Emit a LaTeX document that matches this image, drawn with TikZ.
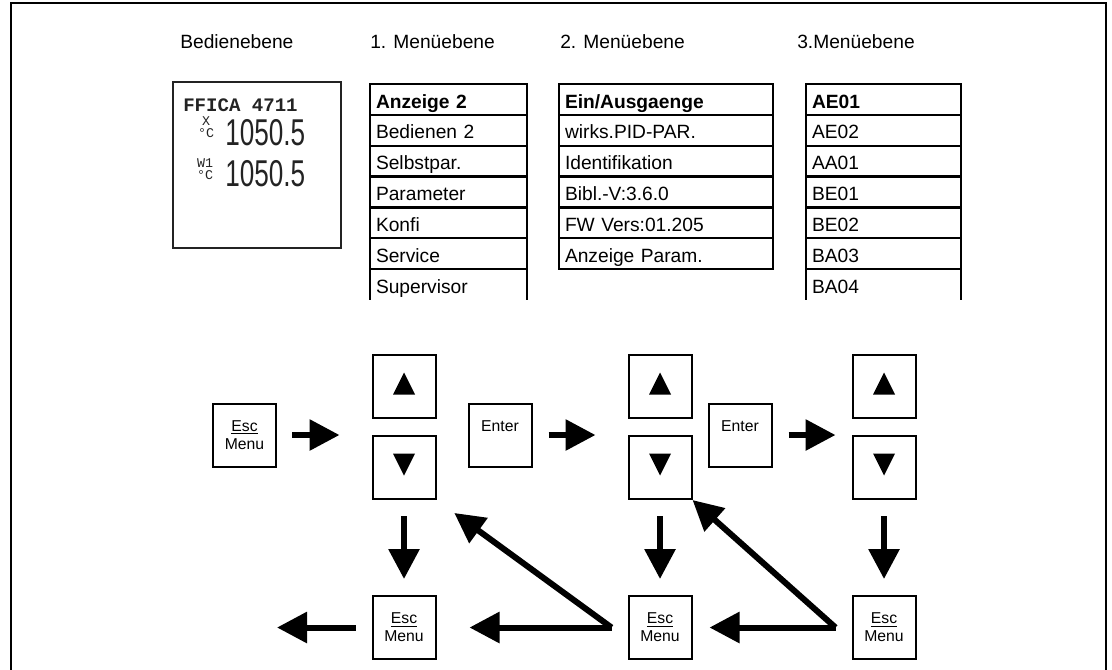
\documentclass[tikz,border=0pt]{standalone}
\usepackage{fontspec}
\setmainfont{Liberation Sans}
\setmonofont{Liberation Mono}
\usetikzlibrary{arrows.meta,positioning,calc}
\definecolor{ink}{RGB}{0,0,0}
\definecolor{lcdink}{RGB}{35,35,35}
\newlength\pxu
\setlength\pxu{0.75pt}
\tikzset{
  >={Triangle[length=22.5pt,width=22.5pt]},
  head/.style={anchor=base west,inner sep=0,font=\fontsize{14.4}{17}\selectfont},
  row/.style={draw=ink,line width=2.2\pxu,anchor=north west,outer sep=0,text width=#1,align=left,
    inner xsep=6\pxu,inner ysep=0,text height=24\pxu,text depth=6.85\pxu,
    font=\fontsize{14.4}{17}\selectfont},
  rule/.style={draw=ink,line width=2.2\pxu},
  key/.style={draw=ink,line width=2\pxu,minimum size=63\pxu,inner sep=0,align=center,
    font=\fontsize{11.8}{13.5}\selectfont},
  upkey/.style={key,path picture={\fill[ink,shift={(path picture bounding box.center)}]
    (0,-14) -- (11,8) -- (-11,8) -- cycle;}},
  downkey/.style={key,path picture={\fill[ink,shift={(path picture bounding box.center)}]
    (-11,-14) -- (11,-14) -- (0,8) -- cycle;}},
  flow/.style={->,line width=6\pxu,draw=ink},
  % display
  lcd/.style={draw=lcdink,line width=2\pxu,minimum width=168\pxu,minimum height=166\pxu,inner sep=0},
  lcdtext/.style={anchor=base west,inner sep=0,text=lcdink,font=\fontsize{14.3}{16}\ttfamily\bfseries},
  unit/.style={inner sep=0,align=center,text=lcdink,font=\fontsize{10}{9.5}\ttfamily},
  seg/.style={anchor=base west,inner sep=0,text=lcdink,font=\fontsize{28}{30}\selectfont},
}

\begin{document}
\begin{tikzpicture}[x=0.75pt,y=-0.75pt]
  \useasboundingbox (0,0) rectangle (1112,669);
  % frame, open at the bottom
  \draw[ink,line width=1.7\pxu] (11,680) -- (11,3) -- (1106,3) -- (1106,680);

  % column heads
  \node[head] (h0) at (180,48) {Bedienebene};
  \node[head] (h1) at (370,48) {1. Menüebene};
  \node[head] (h2) at (560,48) {2. Menüebene};
  \node[head] (h3) at (797,48) {3.Menüebene};

  % display
  \node[lcd] (lcd) at (257,165) {};
  \node[lcdtext] (tag) at (183,111) {FFICA 4711};
  \node[unit] (u1) at (206,127) {X\\°C};
  \node[unit] (u2) at (205,169) {W1\\°C};
  \node[seg] (pv) at (225,145) {\scalebox{0.7}[1]{1050.5}};
  \node[seg] (sp) at (225,186) {\scalebox{0.7}[1]{1050.5}};

  % menu lists
  \foreach \t [count=\i] in {{\textbf{Anzeige 2}},Bedienen 2,Selbstpar.,Parameter,Konfi,Service}
    \node[row=145\pxu] (m1-\i) at (370,{84+30.85*(\i-1)}) {\t};
  \node[row=145\pxu,draw=none] (m1-7) at (370,{84+30.85*6}) {Supervisor};
  \draw[rule] (m1-7.north west) -- (m1-7.south west) (m1-7.north east) -- (m1-7.south east);

  \foreach \t [count=\i] in {{\textbf{Ein/Ausgaenge}},wirks.PID-PAR.,Identifikation,Bibl.-V:3.6.0,FW Vers:01.205,Anzeige Param.}
    \node[row=202\pxu] (m2-\i) at (559,{84+30.85*(\i-1)}) {\t};

  \foreach \t [count=\i] in {{\textbf{AE01}},AE02,AA01,BE01,BE02,BA03}
    \node[row=143\pxu] (m3-\i) at (806,{84+30.85*(\i-1)}) {\t};
  \node[row=143\pxu,draw=none] (m3-7) at (806,{84+30.85*6}) {BA04};
  \draw[rule] (m3-7.north west) -- (m3-7.south west) (m3-7.north east) -- (m3-7.south east);

  % keys
  \node[key] (esc0) at (244.5,435) {\underline{Esc}\\Menu};
  \node[upkey] (up1) at (404,386.5) {};
  \node[downkey,below=16\pxu of up1] (dn1) {};
  \node[key,below=95\pxu of dn1] (esc1) {\underline{Esc}\\Menu};
  \node[key] (ent1) at (500,435) {Enter\\~};
  \node[upkey] (up2) at (660,386.5) {};
  \node[downkey,below=16\pxu of up2] (dn2) {};
  \node[key,below=95\pxu of dn2] (esc2) {\underline{Esc}\\Menu};
  \node[key] (ent2) at (740,435) {Enter\\~};
  \node[upkey] (up3) at (884,386.5) {};
  \node[downkey,below=16\pxu of up3] (dn3) {};
  \node[key,below=95\pxu of dn3] (esc3) {\underline{Esc}\\Menu};

  % arrows
  \coordinate (back) at (esc0.east |- esc1.west);
  \coordinate (j2) at ($(esc2.west)+(-16,0)$);
  \coordinate (j3) at ($(esc3.west)+(-16,0)$);
  \draw[flow,shorten <=15\pxu,shorten >=32\pxu] (esc0.east) -- (esc0.east -| up1.west);
  \draw[flow,shorten <=16\pxu,shorten >=32\pxu] (ent1.east) -- (ent1.east -| up2.west);
  \draw[flow,shorten <=16\pxu,shorten >=16\pxu] (ent2.east) -- (ent2.east -| up3.west);
  \foreach \c in {1,2,3}
    \draw[flow,shorten <=16\pxu,shorten >=16\pxu] (dn\c.south) -- (esc\c.north);
  \draw[flow,shorten <=16\pxu] (esc1.west) -- (back);
  \draw[flow,shorten >=33\pxu] (j2) -- (esc1.east);
  \draw[flow,shorten >=22\pxu] (j2) -- (dn1.south east);
  \draw[flow,shorten >=17\pxu] (j3) -- (esc2.east);
  \draw[flow] (j3) -- (dn2.south east);
\end{tikzpicture}
\end{document}
